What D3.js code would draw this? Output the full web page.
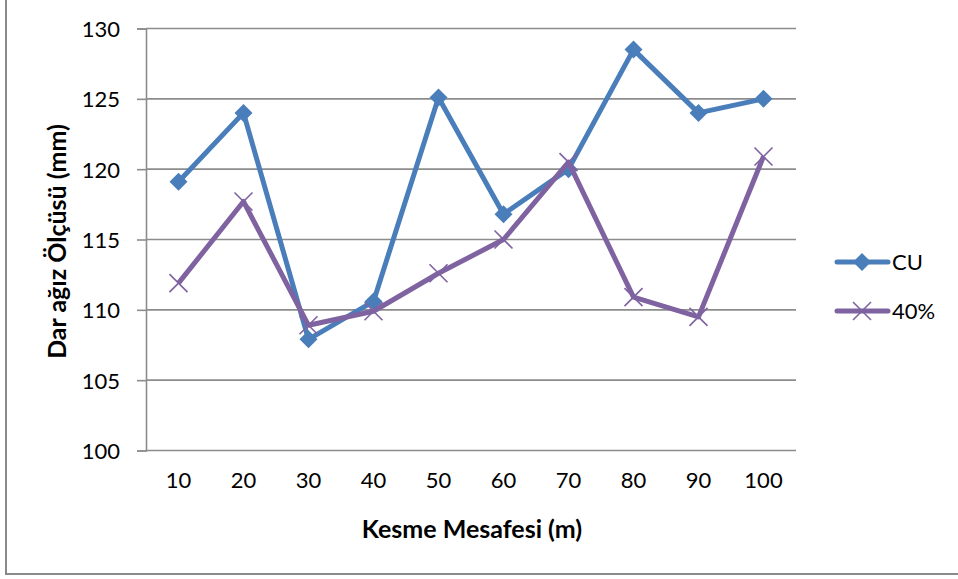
<!DOCTYPE html>
<html><head><meta charset="utf-8">
<script src="https://cdn.jsdelivr.net/npm/d3@7"></script>
<style>body{margin:0;background:#fff}svg{display:block}</style>
</head><body>
<script>
const categories = ["10","20","30","40","50","60","70","80","90","100"];
const cuValues = [119.1,124.0,107.9,110.6,125.1,116.8,120.0,128.5,124.0,125.0];
const p40Values = [111.9,117.7,108.9,109.9,112.6,115.0,120.5,110.9,109.5,120.9];
const yTicks = [100,105,110,115,120,125,130];
const seriesNames = ["CU","40%"];

const FONT="Lato, 'Open Sans', sans-serif";
const W=958,H=579;
const svg=d3.select("body").append("svg").attr("width",W).attr("height",H);
const m={l:146,r:796,t:28.5,b:450.5};
const x=d3.scaleBand().domain(categories).range([m.l,m.r]);
const y=d3.scaleLinear().domain([100,130]).range([m.b,m.t]);

// outer border
svg.append("path").attr("d",`M6,0V574H${W}`).attr("fill","none").attr("stroke","#8a8a8a").attr("stroke-width",2);

// gridlines
svg.append("g").selectAll("line").data(yTicks).join("line")
 .attr("x1",m.l).attr("x2",m.r).attr("y1",d=>y(d)).attr("y2",d=>y(d))
 .attr("stroke","#8c8c8c").attr("stroke-width",1.6);

// y axis
const ya=svg.append("g").attr("transform",`translate(${m.l},0)`).call(d3.axisLeft(y).tickValues(yTicks).tickSize(9).tickPadding(17));
ya.attr("font-family",FONT).attr("font-size",22);
ya.select(".domain").attr("stroke","#8c8c8c").attr("stroke-width",1.6);
ya.selectAll(".tick line").attr("stroke","#8c8c8c").attr("stroke-width",1.6);
ya.selectAll("text").attr("fill","#000").attr("dy","0.36em");

// x axis labels
const xa=svg.append("g").attr("transform",`translate(0,${m.b})`).call(d3.axisBottom(x).tickSize(0).tickPadding(22));
xa.attr("font-family",FONT).attr("font-size",22);
xa.select(".domain").remove();
xa.selectAll("text").attr("fill","#000");

// titles
svg.append("text").attr("x",(m.l+m.r)/2+1).attr("y",538).attr("text-anchor","middle")
 .attr("font-family",FONT).attr("font-size",25).attr("font-weight","bold").text("Kesme Mesafesi (m)");
svg.append("text").attr("transform",`translate(66,${(m.t+m.b)/2+2}) rotate(-90)`).attr("text-anchor","middle")
 .attr("font-family",FONT).attr("font-size",25).attr("font-weight","bold").text("Dar ağız Ölçüsü (mm)");

const cx=d=>x(d)+x.bandwidth()/2;
const line=d3.line().x(d=>cx(d.c)).y(d=>y(d.v));
const blue="#4a7ebb", purple="#7f63a1";
const cu=categories.map((c,i)=>({c,v:cuValues[i]}));
const p40=categories.map((c,i)=>({c,v:p40Values[i]}));

svg.append("path").datum(cu).attr("d",line).attr("fill","none").attr("stroke",blue).attr("stroke-width",5).attr("stroke-linejoin","round");
svg.append("g").selectAll("path").data(cu).join("path")
 .attr("transform",d=>`translate(${cx(d.c)},${y(d.v)})`).attr("d","M0,-9L9,0L0,9L-9,0Z").attr("fill",blue);

svg.append("path").datum(p40).attr("d",line).attr("fill","none").attr("stroke",purple).attr("stroke-width",5).attr("stroke-linejoin","round");
svg.append("g").selectAll("path").data(p40).join("path")
 .attr("transform",d=>`translate(${cx(d.c)},${y(d.v)})`).attr("d","M-9,-9L9,9M-9,9L9,-9").attr("stroke",purple).attr("stroke-width",1.6);

// legend
const lg=svg.append("g");
const ly=[262,311];
[blue,purple].forEach((col,i)=>{
  lg.append("line").attr("x1",837).attr("x2",888).attr("y1",ly[i]).attr("y2",ly[i]).attr("stroke",col).attr("stroke-width",5).attr("stroke-linecap","round");
  if(i===0) lg.append("path").attr("transform",`translate(862,${ly[i]})`).attr("d","M0,-9L9,0L0,9L-9,0Z").attr("fill",col);
  else lg.append("path").attr("transform",`translate(862,${ly[i]})`).attr("d","M-9,-9L9,9M-9,9L9,-9").attr("stroke",col).attr("stroke-width",1.6);
  lg.append("text").attr("x",892).attr("y",ly[i]).attr("dy","0.36em").attr("font-family",FONT).attr("font-size",22).text(seriesNames[i]);
});
</script>
</body></html>
